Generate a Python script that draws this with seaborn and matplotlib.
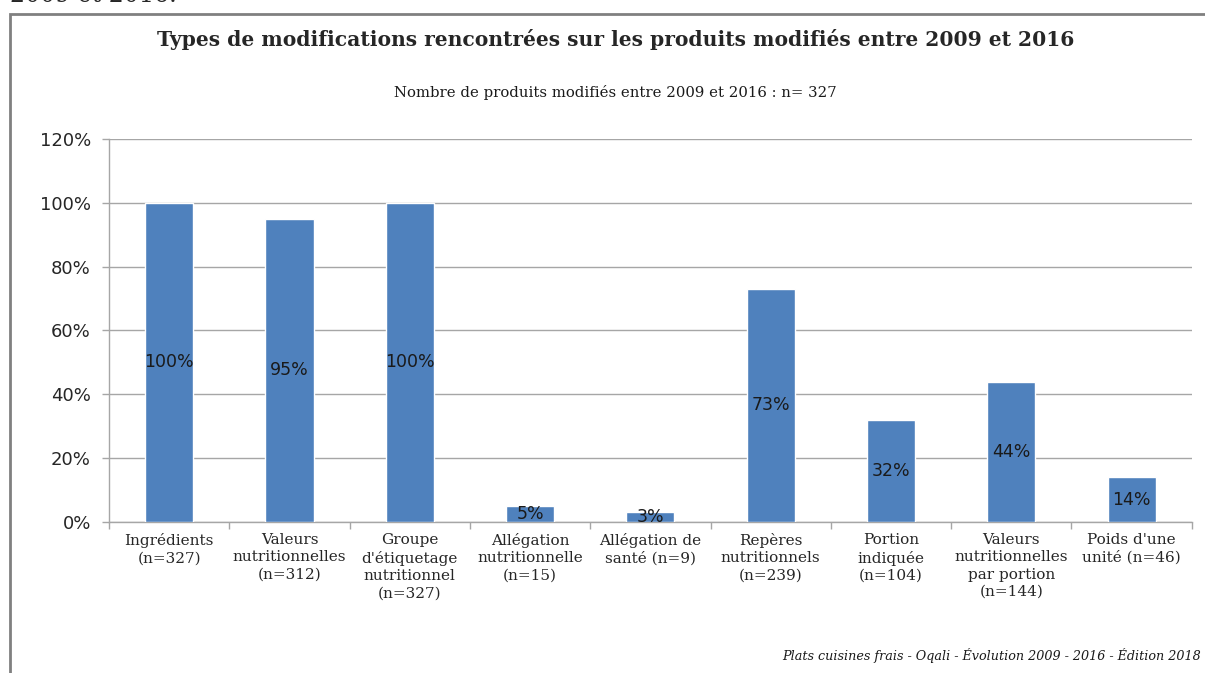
import matplotlib
matplotlib.use('Agg')
import matplotlib.pyplot as plt
import matplotlib.patches as mpatches
from matplotlib.ticker import FuncFormatter, FixedLocator
import seaborn as sns

# Data
categories = ['Ingrédients\n(n=327)', 'Valeurs\nnutritionnelles\n(n=312)',
              "Groupe\nd'étiquetage\nnutritionnel\n(n=327)", 'Allégation\nnutritionnelle\n(n=15)',
              'Allégation de\nsanté (n=9)', 'Repères\nnutritionnels\n(n=239)',
              'Portion\nindiquée\n(n=104)', 'Valeurs\nnutritionnelles\npar portion\n(n=144)',
              "Poids d'une\nunité (n=46)"]
values = [100, 95, 100, 5, 3, 73, 32, 44, 14]
yticks = [0, 20, 40, 60, 80, 100, 120]

bar_color = '#4F81BD'
grid_color = '#A6A6A6'
serif = 'DejaVu Serif'
sans = 'DejaVu Sans'

sns.set_style('white')

fig = plt.figure(figsize=(12.05, 6.73), dpi=100)
ax = fig.add_axes([0.0905, 0.2244, 0.8985, 0.5691])

sns.barplot(x=list(range(len(values))), y=values, color=bar_color, saturation=1,
            width=0.4, ax=ax, zorder=3)

ax.set_ylim(0, 120)
ax.set_xlim(-0.5, len(values) - 0.5)
ax.set_yticks(yticks)
ax.yaxis.set_major_formatter(FuncFormatter(lambda v, p: f'{int(v)}%'))
for lab in ax.get_yticklabels():
    lab.set_fontfamily(sans)
    lab.set_fontsize(13)
    lab.set_color('#262626')
ax.tick_params(axis='y', length=5, width=1, color=grid_color, pad=8, left=True)

ax.set_xticks(range(len(values)))
ax.set_xticklabels(categories, fontfamily=serif, fontsize=11, linespacing=1.3)
ax.tick_params(axis='x', which='major', length=0, pad=8)
ax.xaxis.set_minor_locator(FixedLocator([i - 0.5 for i in range(len(values) + 1)]))
ax.tick_params(axis='x', which='minor', length=5, width=1, color=grid_color, bottom=True)

ax.yaxis.grid(True, color=grid_color, linewidth=1, zorder=0)
ax.set_axisbelow(True)
for s in ['top', 'right']:
    ax.spines[s].set_visible(False)
for s in ['left', 'bottom']:
    ax.spines[s].set_color(grid_color)
    ax.spines[s].set_linewidth(1)
ax.set_xlabel('')
ax.set_ylabel('')

# data labels at middle of bars
for i, v in enumerate(values):
    ax.text(i, v / 2, f'{v}%', ha='center', va='center', fontsize=12.5,
            fontfamily=sans, color='#1a1a1a', zorder=4)

# titles and notes
fig.text(0.511, 0.9406, 'Types de modifications rencontrées sur les produits modifiés entre 2009 et 2016',
         ha='center', va='center', fontsize=14.6, fontweight='bold', fontfamily=serif)
fig.text(0.511, 0.862, 'Nombre de produits modifiés entre 2009 et 2016 : n= 327',
         ha='center', va='center', fontsize=10.7, fontfamily=serif, color='#1a1a1a')
fig.text(0.997, 0.0267, 'Plats cuisines frais - Oqali - Évolution 2009 - 2016 - Édition 2018',
         ha='right', va='center', fontsize=9.2, fontstyle='italic', fontfamily=serif, color='#1a1a1a')
fig.text(0.008, 0.9965, '2009 et 2016.', ha='left', va='baseline', fontsize=17, fontfamily=serif)

# outer chart frame
fig.patches.append(mpatches.Rectangle((10 / 1205, -0.05), 1.1, 1 - 14 / 673 + 0.05,
                                      transform=fig.transFigure, fill=False,
                                      edgecolor='#808080', linewidth=2))

fig.savefig('out.png', dpi=100)
